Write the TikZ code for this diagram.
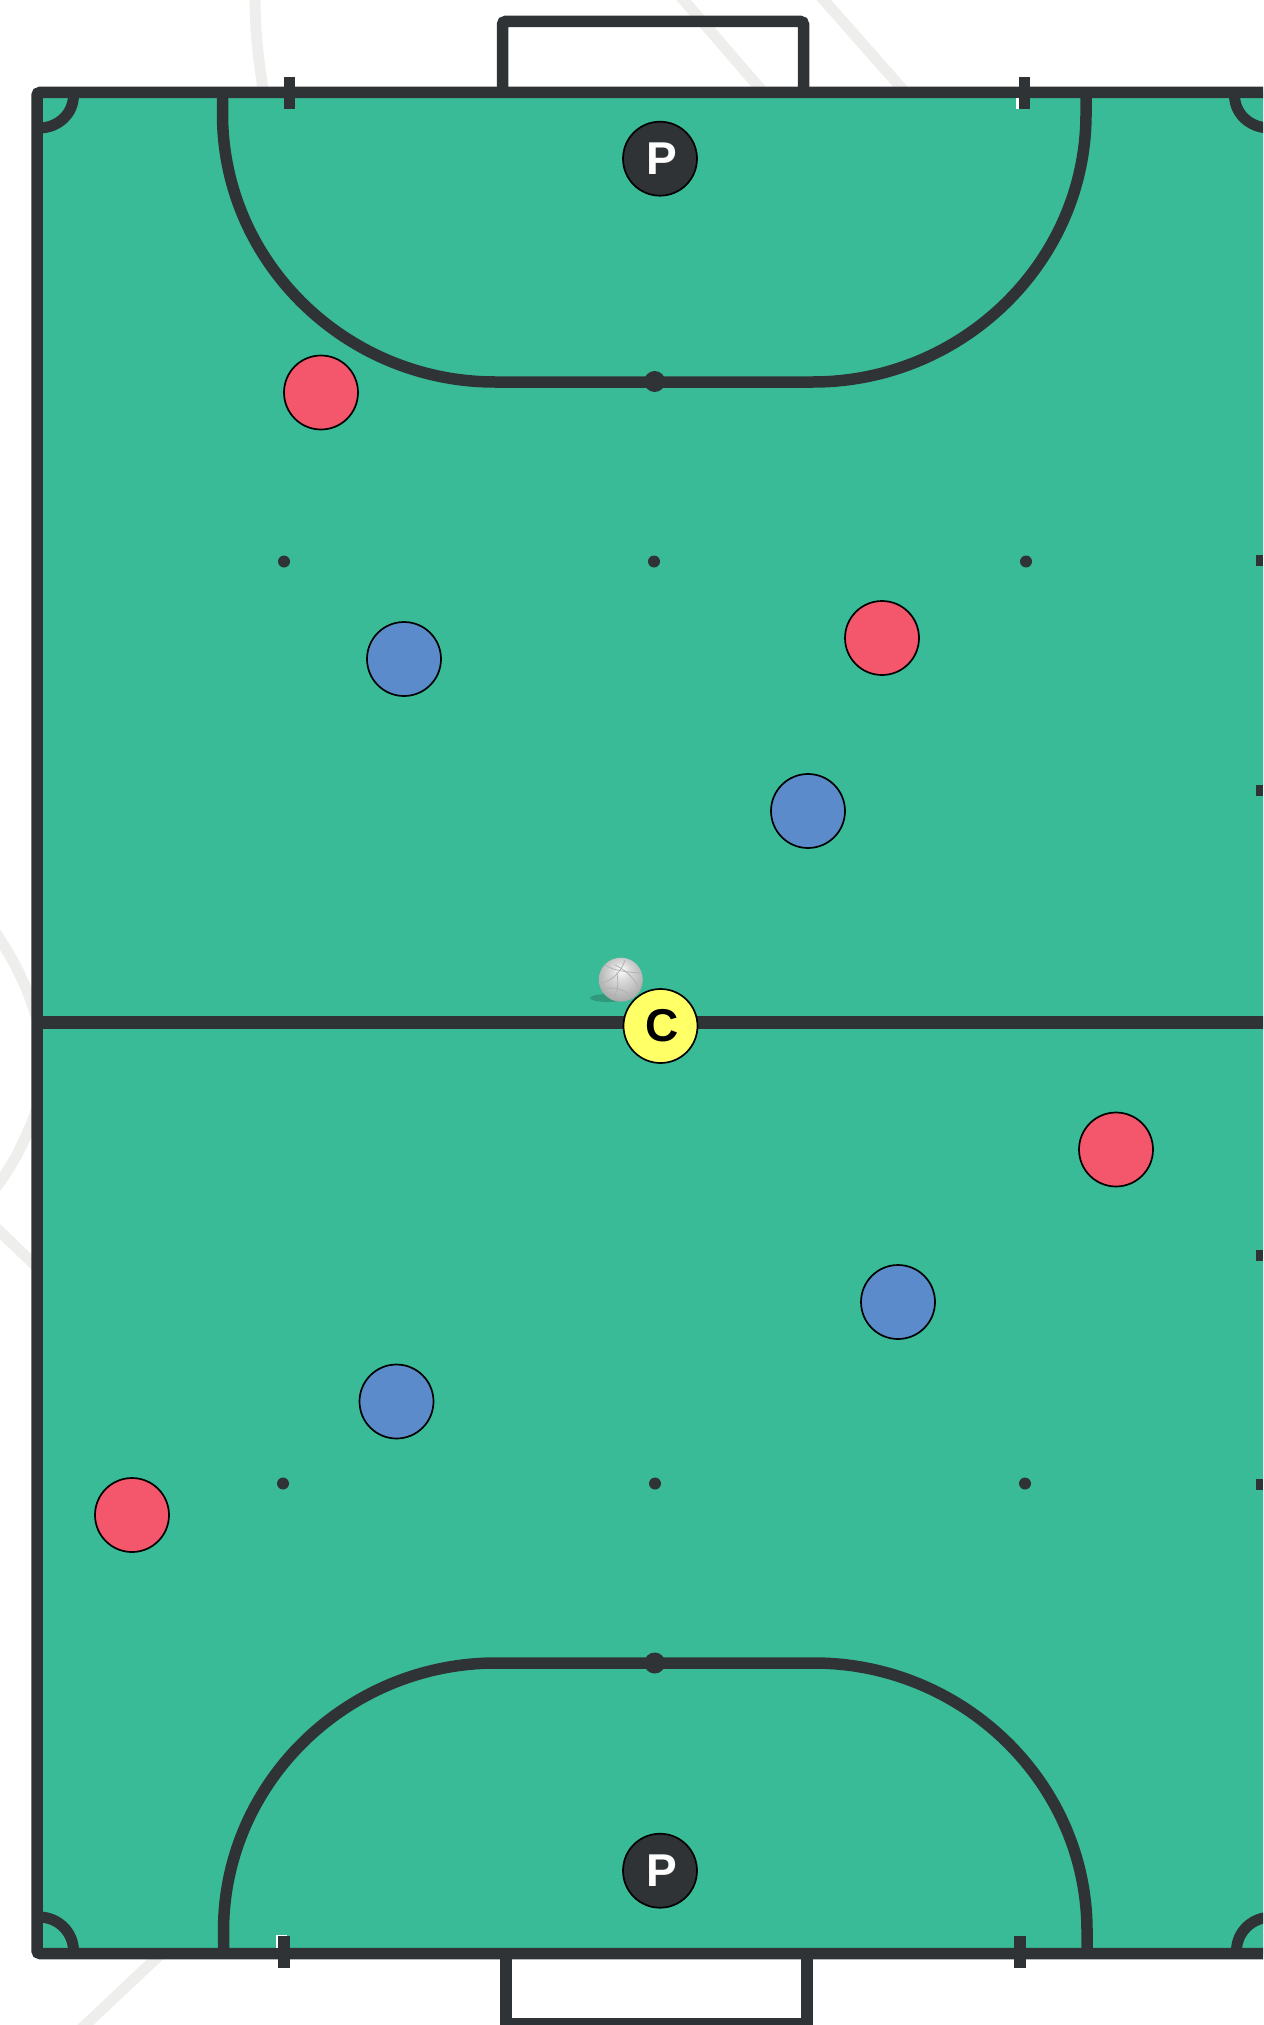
\documentclass[tikz,border=0pt]{standalone}
\usepackage{fontspec}
\setmainfont{Liberation Sans}
\definecolor{fieldgreen}{HTML}{3ABB98}
\definecolor{linedark}{HTML}{2F3336}
\definecolor{bggrey}{HTML}{EEEEEC}
\definecolor{redplayer}{HTML}{F4566B}
\definecolor{blueplayer}{HTML}{5B8BCB}
\definecolor{refyellow}{HTML}{FFFF66}
\pgfdeclareradialshading{vball}{\pgfpoint{0bp}{12bp}}{color(0bp)=(white); color(10bp)=(black!14); color(28bp)=(black!32); color(50bp)=(black!58)}
\tikzset{
  bgline/.style={draw=bggrey,line width=11pt},
  pitchline/.style={draw=linedark,line width=11.5pt},
  penaltyline/.style={draw=linedark,line width=11.5pt},
  cornerarc/.style={draw=linedark,line width=11pt,line cap=round},
  tickmark/.style={fill=linedark},
  spotsmall/.style={circle,fill=linedark,inner sep=0pt,minimum size=12pt},
  spotbig/.style={circle,fill=linedark,inner sep=0pt,minimum size=21pt},
  player/.style={circle,draw=black,line width=1.7pt,inner sep=0pt,minimum size=74pt,font=\fontsize{46}{46}\selectfont\bfseries},
  redp/.style={player,fill=redplayer},
  bluep/.style={player,fill=blueplayer},
  keeper/.style={player,fill=linedark,text=white},
  referee/.style={player,fill=refyellow,text=black},
  seam/.style={draw=black!30,line width=0.8pt}
}
\begin{document}
\begin{tikzpicture}[x=1pt,y=-1pt]
\useasboundingbox (0,0) rectangle (1263,2025);
\clip (0,0) rectangle (1263,2025);
% background marks behind the pitch
\draw[bgline] (255,-5) .. controls (255,30) and (258,60) .. (265,100);
\draw[bgline] (675,-10) -- (770,100);
\draw[bgline] (815,-10) -- (912,100);
\draw[bgline] (-10,925) .. controls (12,955) and (30,990) .. (40,1030);
\draw[bgline] (40,1100) .. controls (30,1130) and (15,1165) .. (-10,1195);
\draw[bgline] (-10,1222) -- (40,1270);
\draw[bgline] (165,1950) -- (80,2030);
% goals
\draw[pitchline,rounded corners=3pt] (502.5,100) -- (502.5,21.5) -- (803.5,21.5) -- (803.5,100);
\draw[pitchline] (506,1950) -- (506,2023.5) -- (807,2023.5) -- (807,1950);
% pitch
\fill[fieldgreen] (37,92.5) rectangle (1272.5,1953.5);
\draw[pitchline,rounded corners=3pt] (1272.5,92.5) -- (37,92.5) -- (37,1953.5) -- (1272.5,1953.5);
\draw[draw=linedark,line width=12.5pt] (37,1022.5) -- (1272.5,1022.5);
% penalty areas
\draw[penaltyline] (222.5,92.5) -- (222.5,114) .. controls (222.5,262) and (346,382) .. (495,382) -- (813,382) .. controls (962,382) and (1086,262) .. (1086,114) -- (1086,92.5);
\draw[penaltyline] (223.5,1953.5) -- (223.5,1931) .. controls (223.5,1783) and (347,1663) .. (496,1663) -- (814,1663) .. controls (963,1663) and (1087,1783) .. (1087,1931) -- (1087,1953.5);
% corner arcs
\draw[cornerarc] (73.5,95) .. controls (73.5,114) and (58,128) .. (39,128);
\draw[cornerarc] (73.5,1951) .. controls (73.5,1932) and (58,1917) .. (39,1917);
\draw[cornerarc] (1234.5,95) .. controls (1234.5,114) and (1250,128) .. (1270,128);
\draw[cornerarc] (1236.5,1951) .. controls (1236.5,1932) and (1252,1917) .. (1272,1917);
% edge ticks
\fill[white] (1015.5,98) rectangle (1019,109);
\fill[white] (275.5,1935) rectangle (287,1940);
\fill[white] (275.5,1935) rectangle (278,1948);
\fill[tickmark] (284,77) rectangle (295,109);
\fill[tickmark] (1019,77) rectangle (1030,109);
\fill[tickmark] (278,1936) rectangle (290,1968);
\fill[tickmark] (1014,1936) rectangle (1026,1968);
\fill[tickmark] (1255.5,555) rectangle (1263,566);
\fill[tickmark] (1256,785) rectangle (1263,796);
\fill[tickmark] (1255.5,1249.5) rectangle (1263,1260.5);
\fill[tickmark] (1256,1479) rectangle (1263,1490);
% spots
\node[spotsmall] (s1) at (284,561.5) {};
\node[spotsmall] (s2) at (654,561.5) {};
\node[spotsmall] (s3) at (1026,561.5) {};
\node[spotsmall] (s4) at (283,1483.5) {};
\node[spotsmall] (s5) at (655,1483.5) {};
\node[spotsmall] (s6) at (1025,1483.5) {};
\node[spotbig] (pa) at (654.7,381.5) {};
\node[spotbig] (pb) at (654.7,1663) {};
% ball
\fill[black!18!fieldgreen] (608,998) ellipse[x radius=18,y radius=4];
\begin{scope}
\clip (620.8,979.7) circle[radius=22];
\shade[shading=vball] (620.8,979.7) circle[radius=22];
\begin{scope}[shift={(560,930)},x=0.3333pt,y=-0.3333pt]
\draw[seam] (165,105) .. controls (205,125) and (230,150) .. (240,190);
\draw[seam] (135,105) .. controls (165,125) and (205,125) .. (245,130);
\draw[seam] (115,160) .. controls (150,155) and (180,135) .. (195,90);
\draw[seam] (125,180) .. controls (165,165) and (200,180) .. (222,210);
\draw[seam] (155,212) .. controls (172,190) and (178,160) .. (170,128);
\end{scope}
\end{scope}
% players
\node[redp] (r1) at (321,392.5) {};
\node[redp] (r2) at (882,638) {};
\node[redp] (r3) at (1116,1149.5) {};
\node[redp] (r4) at (132,1515) {};
\node[bluep] (b1) at (404,659) {};
\node[bluep] (b2) at (808,811) {};
\node[bluep] (b3) at (898,1302) {};
\node[bluep] (b4) at (396.5,1401.5) {};
\node[referee] (c) at (660.5,1026) {\hspace{3pt}C};
\node[keeper] (k1) at (660,158.7) {\hspace{4pt}P};
\node[keeper] (k2) at (660,1870.7) {\hspace{4pt}P};
\end{tikzpicture}
\end{document}
